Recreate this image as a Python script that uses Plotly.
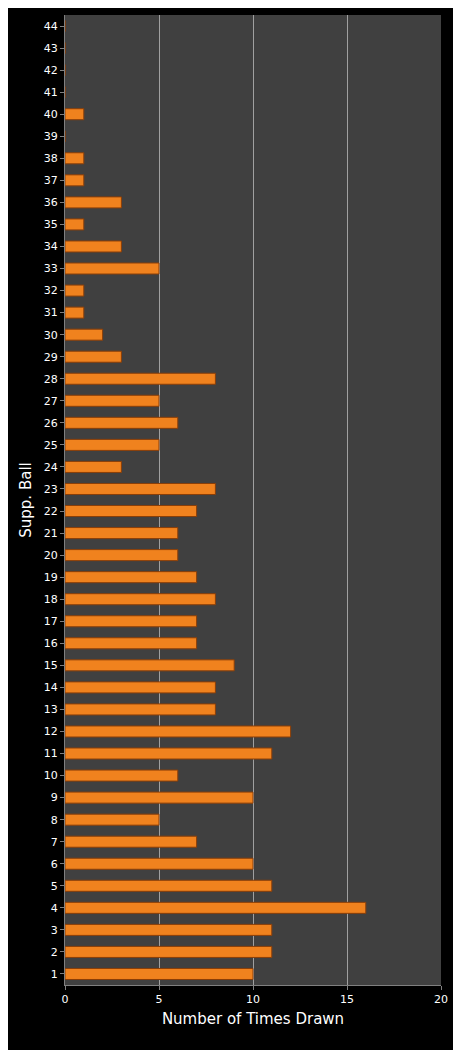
import plotly.graph_objects as go

balls = [str(i) for i in range(1, 45)]
counts = [10, 11, 11, 16, 11, 10, 7, 5, 10, 6, 11, 12, 8, 8, 9, 7, 7, 8, 7, 6,
          6, 7, 8, 3, 5, 6, 5, 8, 3, 2, 1, 1, 5, 3, 1, 3, 1, 1, 0, 1, 0, 0, 0, 0]
x_ticks = [0, 5, 10, 15, 20]

fig = go.Figure(go.Bar(
    y=balls, x=counts, orientation="h", width=0.5,
    marker=dict(color="#F0821E", line=dict(color="#8A3E08", width=1)),
))
fig.update_layout(
    width=461, height=1050, paper_bgcolor="black", plot_bgcolor="#404040",
    margin=dict(l=57, r=28, t=7, b=73), showlegend=False,
    font=dict(family="DejaVu Sans", color="white", size=11),
    xaxis=dict(range=[0, 20], tickvals=x_ticks, showgrid=True, gridcolor="#A0A0A0",
               gridwidth=1, zeroline=False, ticks="outside", ticklen=4, tickcolor="#808080",
               title=dict(text="Number of Times Drawn", font=dict(size=15, color="white"), standoff=8),
               linecolor="#808080", showline=True),
    yaxis=dict(categoryorder="array", categoryarray=balls, type="category",
               range=[-0.5, 43.5], ticks="outside", ticklen=4, tickcolor="#808080",
               title=dict(text="Supp. Ball", font=dict(size=15, color="white"), standoff=8),
               linecolor="#808080", showline=True),
)
fig.write_html("out.html")
